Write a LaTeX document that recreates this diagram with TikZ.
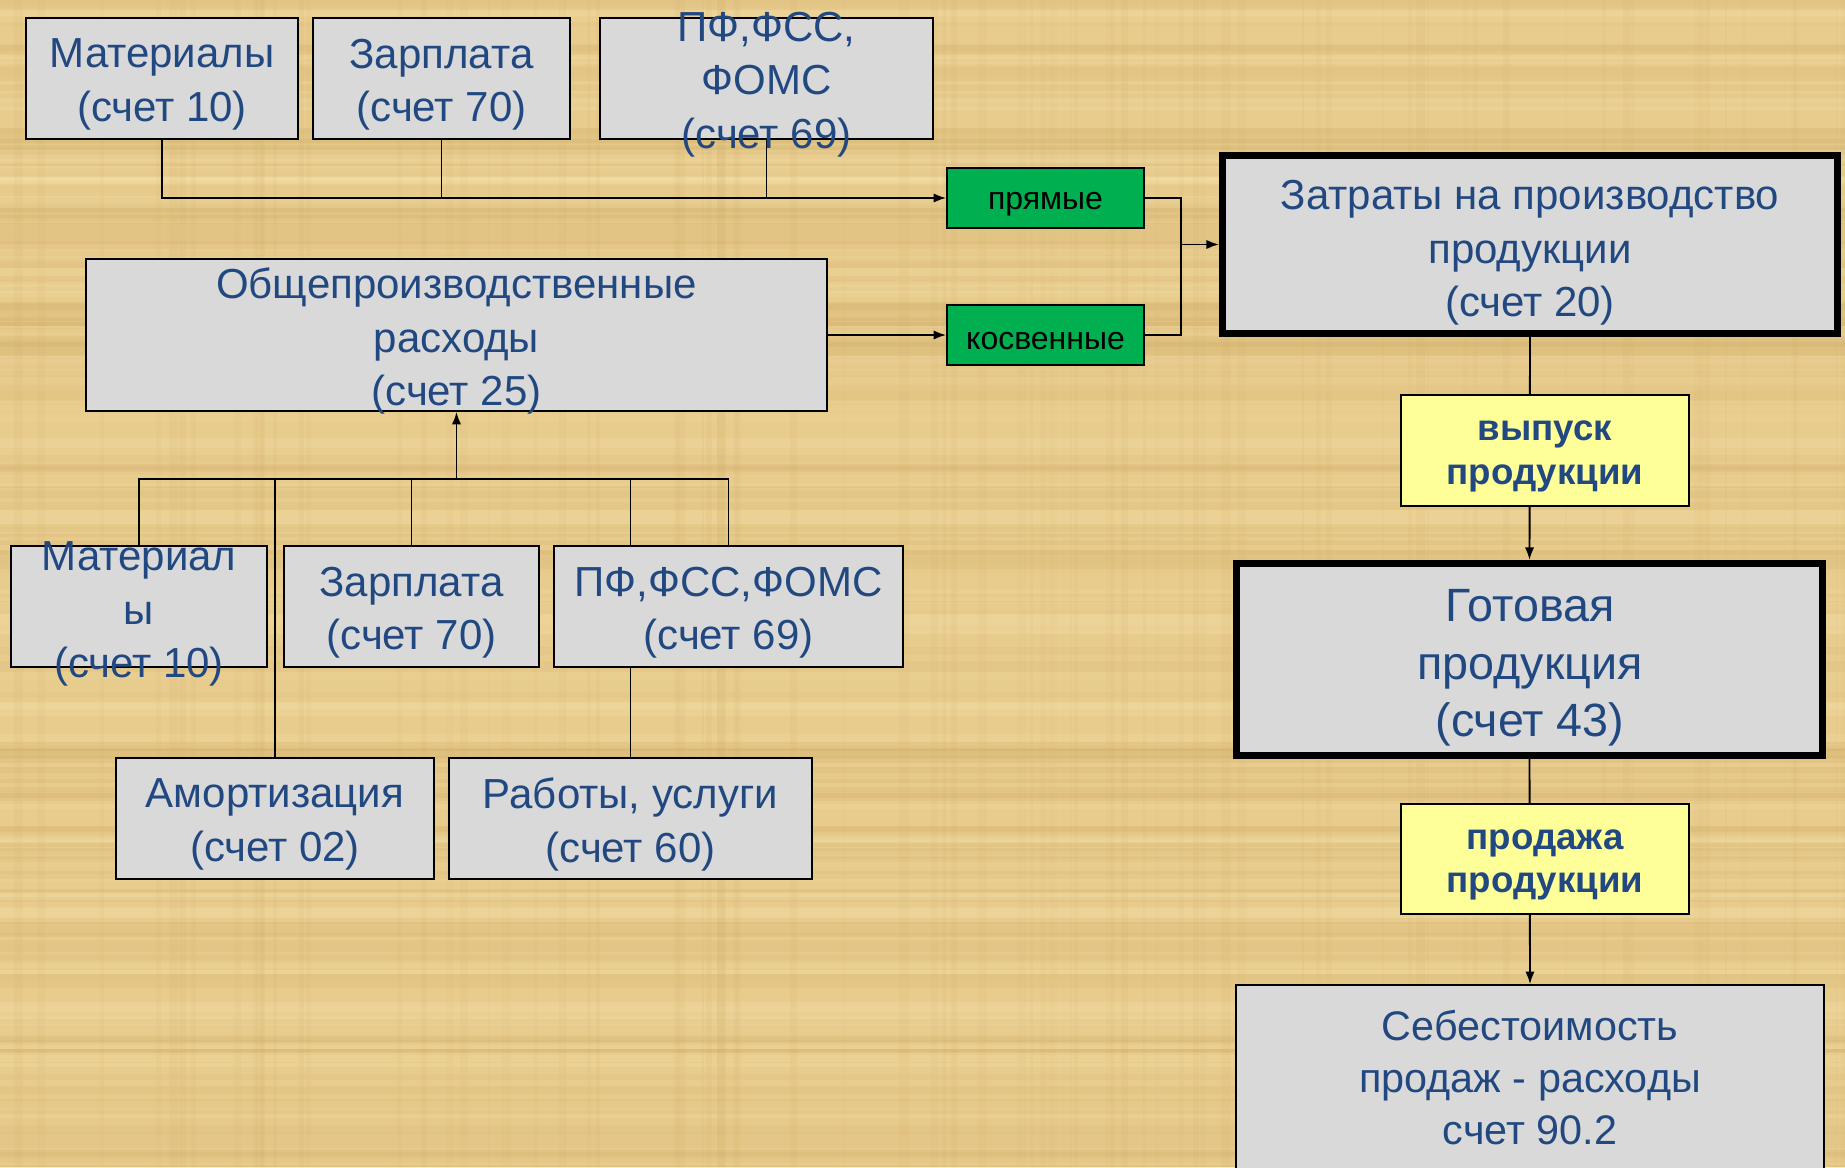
\documentclass[tikz,border=0pt]{standalone}
\usepackage{fontspec}
\setmainfont{Liberation Sans}
\usetikzlibrary{arrows.meta}
\pgfdeclarelayer{paper}
\pgfdeclarelayer{wires}
\pgfsetlayers{paper,wires,main}
\definecolor{bgtan}{RGB}{232,204,142}
\definecolor{bgdark}{RGB}{205,168,96}
\definecolor{bglight}{RGB}{246,226,170}
\definecolor{boxgray}{RGB}{217,217,217}
\definecolor{txtblue}{RGB}{33,72,128}
\definecolor{grn}{RGB}{0,176,80}
\definecolor{ylw}{RGB}{255,255,153}
\begin{document}
\begin{tikzpicture}[x=0.75pt,y=-0.75pt,
  sz/.style 2 args={minimum width=#1*0.75pt,minimum height=#2*0.75pt},
  box/.style={draw=black,line width=1.2pt,fill=boxgray,inner sep=0pt},
  hbox/.style={draw=black,line width=5.2pt,fill=boxgray,inner sep=0pt},
  gbox/.style={draw=black,line width=1.2pt,fill=grn,inner sep=0pt},
  ybox/.style={draw=black,line width=1.2pt,fill=ylw,inner sep=0pt},
  lowered/.style={yshift=-4.5pt},
  gtxt/.style={inner sep=0pt,font=\fontsize{24}{29}\selectfont,text=black,lowered},
  ytxt/.style={inner sep=0pt,align=center,font=\fontsize{27.5}{32.6}\selectfont\bfseries,text=txtblue,lowered},
  txt/.style={align=center,text=txtblue,font=\fontsize{31.5}{40}\selectfont,inner sep=0pt,lowered},
  bigtxt/.style={align=center,text=txtblue,font=\fontsize{35}{43}\selectfont,inner sep=0pt,lowered},
  sebtxt/.style={align=center,text=txtblue,font=\fontsize{31}{39}\selectfont,inner sep=0pt},
  wire/.style={line width=1.4pt,draw=black},
  arr/.style={wire,-{Latex[length=9.5pt,width=7pt]}}]

\useasboundingbox (0,0) rectangle (1845,1167);
\begin{pgfonlayer}{paper}
  \fill[bgtan] (0,0) rectangle (1845,1167);
  \pgfmathsetseed{7}
  \foreach \i in {1,...,110} {
    \pgfmathsetmacro\yy{rnd*1167}
    \pgfmathsetmacro\hh{3+rnd*14}
    \pgfmathsetmacro\op{0.06+rnd*0.16}
    \fill[bgdark,opacity=\op] (0,\yy) rectangle (1845,\yy+\hh);
  }
  \foreach \i in {1,...,90} {
    \pgfmathsetmacro\yy{rnd*1167}
    \pgfmathsetmacro\hh{3+rnd*10}
    \pgfmathsetmacro\op{0.08+rnd*0.2}
    \fill[bglight,opacity=\op] (0,\yy) rectangle (1845,\yy+\hh);
  }
  \foreach \i in {1,...,80} {
    \pgfmathsetmacro\xx{rnd*1845}
    \pgfmathsetmacro\ww{2+rnd*8}
    \pgfmathsetmacro\op{0.04+rnd*0.07}
    \fill[bgdark,opacity=\op] (\xx,0) rectangle (\xx+\ww,1167);
  }
\end{pgfonlayer}

% top row
\node[box,sz={272}{121}] (mat1) at (162,78.5) {};
\node[box,sz={257}{121}] (zar1) at (441.5,78.5) {};
\node[box,sz={333}{121}] (pf1) at (766.5,78.5) {};
\node[txt] (mat1t) at (mat1) {Материалы\\(счет 10)};
\node[txt] (zar1t) at (zar1) {Зарплата\\(счет 70)};
\node[txt] (pf1t) at (pf1) {ПФ,ФСС,\\ФОМС\\(счет 69)};

% green
\node[gbox,sz={197}{60}] (prm) at (1045.5,198) {};
\node[gtxt] (prmt) at (prm) {прямые};
\node[gbox,sz={197}{60}] (kos) at (1045.5,335) {};
\node[gtxt] (kost) at (kos) {косвенные};

% overhead
\node[box,sz={741}{152}] (obs) at (456.5,335) {};
\node[txt] (obst) at (obs) {Общепроизводственные\\расходы\\(счет 25)};

% right column
\node[hbox,sz={615}{178}] (zat) at (1530,244.5) {};
\node[txt] (zatt) at (1530,247) {Затраты на производство\\продукции\\(счет 20)};
\node[ybox,sz={288}{111}] (vyp) at (1545,450.5) {};
\node[ytxt] (vypt) at (vyp) {выпуск\\продукции};
\node[hbox,sz={586}{192}] (got) at (1529.5,659.5) {};
\node[bigtxt] (gott) at (1530,662) {Готовая\\продукция\\(счет 43)};
\node[ybox,sz={288}{110}] (prod) at (1545,859) {};
\node[ytxt] (prodt) at (prod) {продажа\\продукции};
\node[box,sz={588}{190}] (seb) at (1530,1080) {};
\node[sebtxt] (sebt) at (1530,1078) {Себестоимость\\продаж - расходы\\счет 90.2};

% bottom rows
\node[box,sz={256}{121}] (mat2) at (139,606.5) {};
\node[box,sz={255}{121}] (zar2) at (411.5,606.5) {};
\node[box,sz={349}{121}] (pf2) at (728.5,606.5) {};
\node[txt] (mat2t) at (139,608) {Материал\\ы\\(счет 10)};
\node[txt] (zar2t) at (zar2) {Зарплата\\(счет 70)};
\node[txt] (pf2t) at (pf2) {ПФ,ФСС,ФОМС\\(счет 69)};
\node[box,sz={318}{121}] (amo) at (275,818.5) {};
\node[box,sz={363}{121}] (rab) at (630.5,818.5) {};
\node[txt] (amot) at (amo) {Амортизация\\(счет 02)};
\node[txt] (rabt) at (rab) {Работы, услуги\\(счет 60)};

\coordinate (jn) at (1181,244.5);
\coordinate (bus) at (457,479);

\begin{pgfonlayer}{wires}
  \draw[arr] (mat1.south) |- (prm.west);
  \draw[wire] (zar1.south) -- (zar1.south |- prm.west);
  \draw[wire] (pf1.south) -- (pf1.south |- prm.west);
  \draw[arr] (obs.east) -- (kos.west);
  \draw[wire] (prm.east) -| (jn) |- (kos.east);
  \draw[arr] (jn) -- (zat.west);
  \draw[arr] (zat.south) -- (got.north);
  \draw[arr] (got.south) -- (seb.north);
  \draw[arr] (obs.south |- bus) -- (obs.south);
  \draw[wire] (mat2.north) |- (pf2.north |- bus) -- (pf2.north);
  \draw[wire] (zar2.north) -- (zar2.north |- bus);
  \draw[wire] (amo.north) -- (amo.north |- bus);
  \draw[wire] (rab.north) -- (rab.north |- bus);
\end{pgfonlayer}
\end{tikzpicture}
\end{document}
